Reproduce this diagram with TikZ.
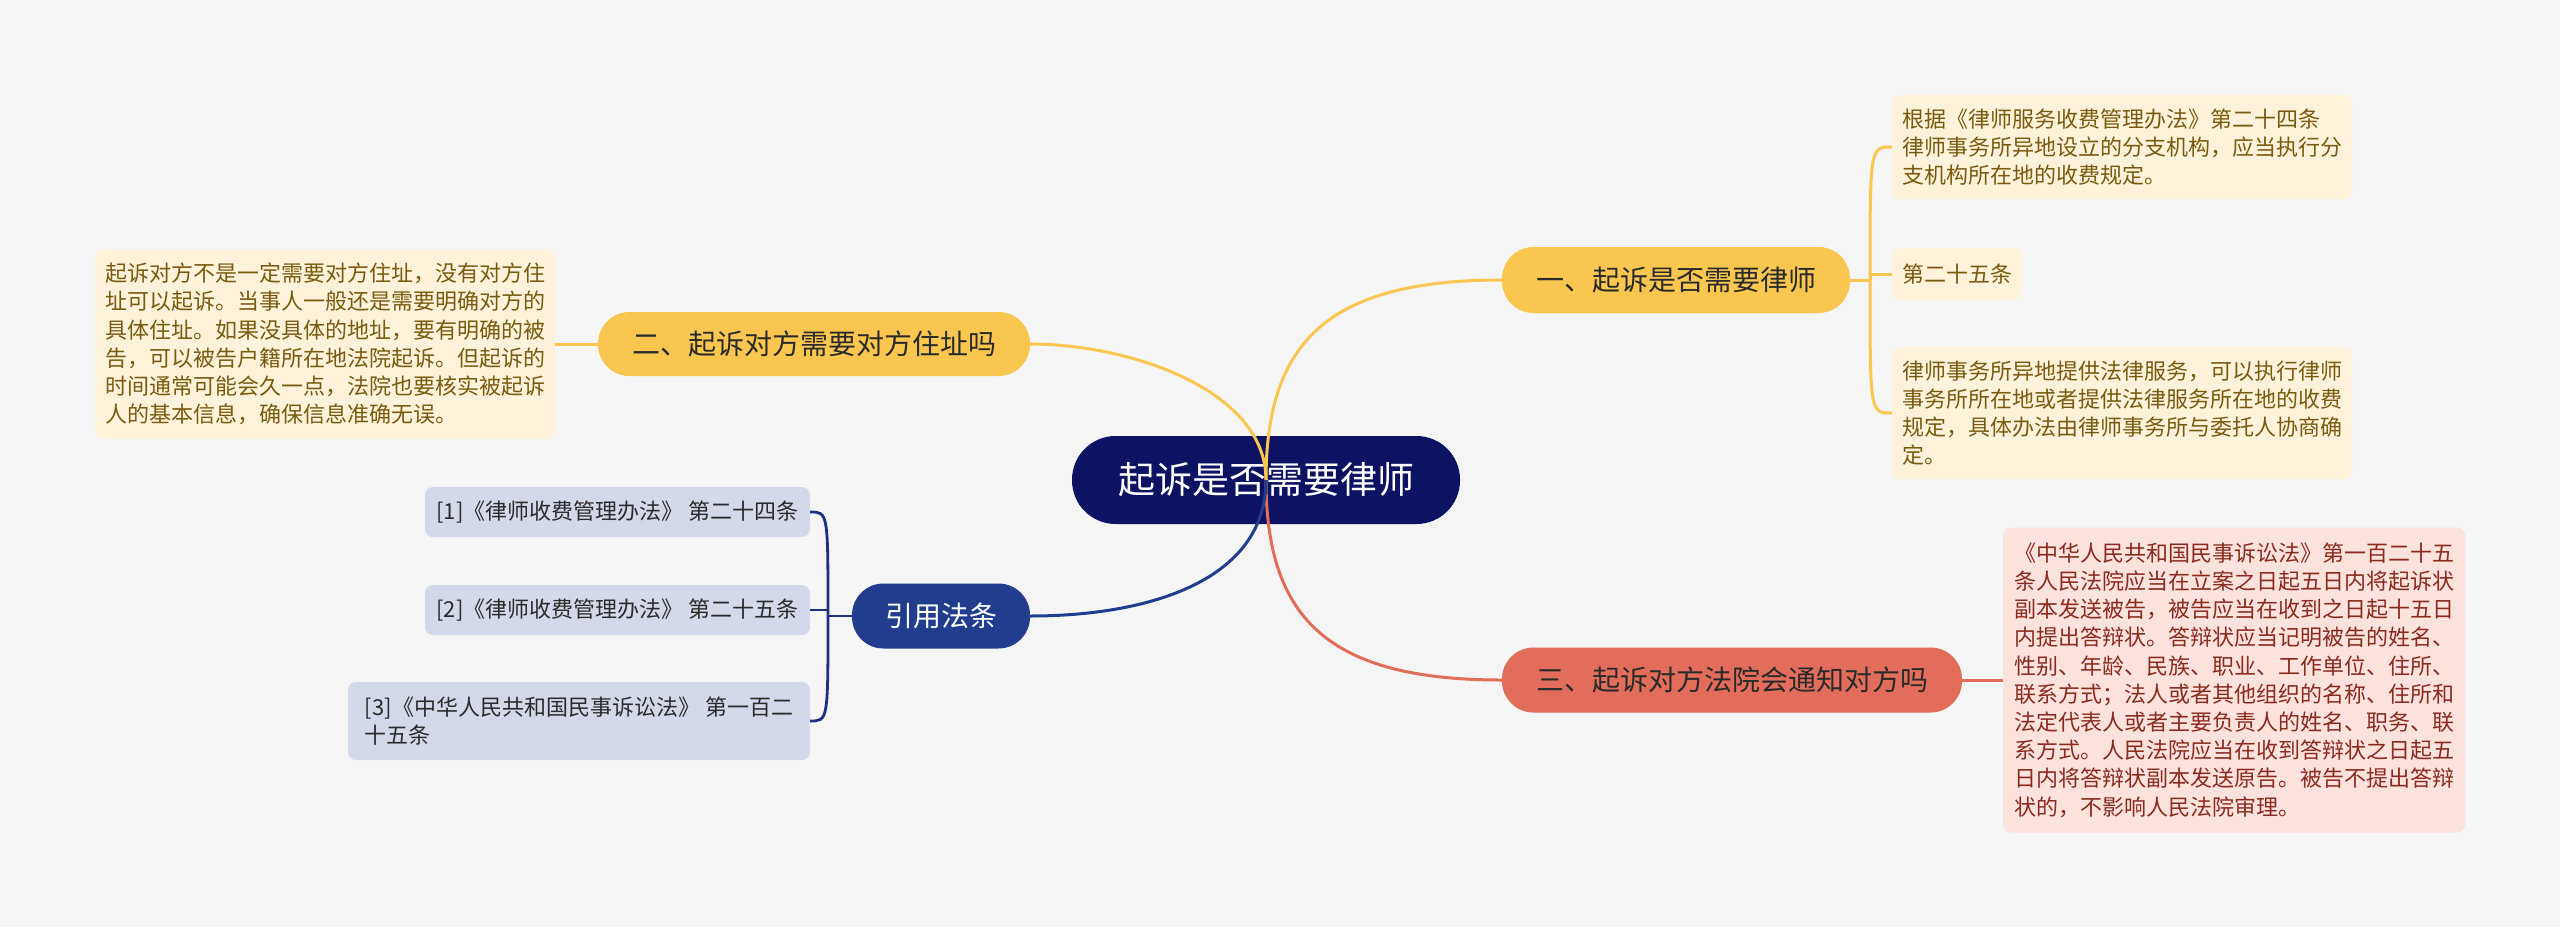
\documentclass[tikz,border=0pt]{standalone}
\usepackage{fontspec}
\setmainfont{Noto Sans CJK SC}
\definecolor{bgc}{HTML}{F5F5F5}
\definecolor{rootc}{HTML}{0D1263}
\definecolor{yelc}{HTML}{F9C74F}
\definecolor{redc}{HTML}{E26D5A}
\definecolor{bluec}{HTML}{203E8D}
\definecolor{bedgec}{HTML}{1C3280}
\definecolor{yleaff}{HTML}{FEF3DA}
\definecolor{yleaft}{HTML}{7A5A0E}
\definecolor{rleaff}{HTML}{FBE2DD}
\definecolor{rleaft}{HTML}{8B2B1E}
\definecolor{bleaff}{HTML}{D3D9E8}
\definecolor{bleaft}{HTML}{2B2B2B}
\definecolor{btext}{HTML}{2A2A2A}
\begin{document}
\begin{tikzpicture}[x=1pt,y=-1pt,
  rootbox/.style={fill=rootc, rounded corners=43.5pt, minimum width=388pt, minimum height=88pt, text=white, inner sep=0pt, font=\fontsize{37}{44}\selectfont},
  branchbox/.style={rounded corners=31.5pt, inner sep=0pt, text=btext, font=\fontsize{28}{34}\selectfont},
  leafbox/.style={rounded corners=8pt, inner sep=0pt, align=left, font=\fontsize{22}{28.2}\selectfont},
  yleaf/.style={leafbox, fill=yleaff, text=yleaft},
  rleaf/.style={leafbox, fill=rleaff, text=rleaft},
  bleaf/.style={leafbox, fill=bleaff, text=bleaft},
  yedge/.style={draw=yelc, line width=3pt},
  redge/.style={draw=redc, line width=3pt},
  bedge/.style={draw=bluec, line width=3pt},
  bedgeleaf/.style={draw=bedgec, line width=2.8pt}
]
\fill[bgc] (0,0) rectangle (2560,927);
\useasboundingbox (0,0) rectangle (2560,927);

% nodes
\node[rootbox] (root) at (1266,480) {起诉是否需要律师};
\node[branchbox, fill=yelc, minimum width=348pt, minimum height=66pt] (b1) at (1676,280) {一、起诉是否需要律师};
\node[branchbox, fill=yelc, minimum width=432pt, minimum height=64pt] (b2) at (814,344) {二、起诉对方需要对方住址吗};
\node[branchbox, fill=redc, minimum width=460pt, minimum height=65pt] (b3) at (1732,680) {三、起诉对方法院会通知对方吗};
\node[branchbox, fill=bluec, text=white, minimum width=178pt, minimum height=65pt] (b4) at (941,616) {引用法条};

\node[yleaf, minimum width=460pt, minimum height=104pt] (l1a) at (2122,147) {根据《律师服务收费管理办法》第二十四条\\律师事务所异地设立的分支机构，应当执行分\\支机构所在地的收费规定。};
\node[yleaf, minimum width=130pt, minimum height=52pt] (l1b) at (1957,274) {第二十五条};
\node[yleaf, minimum width=460pt, minimum height=132pt] (l1c) at (2122,413) {律师事务所异地提供法律服务，可以执行律师\\事务所所在地或者提供法律服务所在地的收费\\规定，具体办法由律师事务所与委托人协商确\\定。};
\node[yleaf, minimum width=460pt, minimum height=189pt] (l2) at (325,344) {起诉对方不是一定需要对方住址，没有对方住\\址可以起诉。当事人一般还是需要明确对方的\\具体住址。如果没具体的地址，要有明确的被\\告，可以被告户籍所在地法院起诉。但起诉的\\时间通常可能会久一点，法院也要核实被起诉\\人的基本信息，确保信息准确无误。};
\node[rleaf, minimum width=462pt, minimum height=305pt] (l3) at (2234,680) {《中华人民共和国民事诉讼法》第一百二十五\\条人民法院应当在立案之日起五日内将起诉状\\副本发送被告，被告应当在收到之日起十五日\\内提出答辩状。答辩状应当记明被告的姓名、\\性别、年龄、民族、职业、工作单位、住所、\\联系方式；法人或者其他组织的名称、住所和\\法定代表人或者主要负责人的姓名、职务、联\\系方式。人民法院应当在收到答辩状之日起五\\日内将答辩状副本发送原告。被告不提出答辩\\状的，不影响人民法院审理。};
\node[bleaf, minimum width=385pt, minimum height=50pt] (l4a) at (617.5,512) {[1]《律师收费管理办法》 第二十四条};
\node[bleaf, minimum width=385pt, minimum height=50pt] (l4b) at (617.5,610) {[2]《律师收费管理办法》 第二十五条};
\node[bleaf, minimum width=462pt, minimum height=78pt] (l4c) at (579,721) {[3]《中华人民共和国民事诉讼法》 第一百二\\十五条};

\coordinate (j1) at (1870,280);
\coordinate (j1b) at (1870,274);
\coordinate (j4) at (828,616);
\coordinate (j4b) at (828,610);

% root edges
\draw[yedge] (root.center) .. controls (1266,340) and (1330,280) .. (b1.west);
\draw[yedge] (root.center) .. controls (1266,390) and (1130,344) .. (b2.east);
\draw[redge] (root.center) .. controls (1266,620) and (1330,680) .. (b3.west);
\draw[bedge] (root.center) .. controls (1266,580) and (1150,616) .. (b4.east);

% leaf edges
\draw[yedge] (b1.east) -- (j1);
\draw[yedge] (j1) .. controls (1870,147) .. (l1a.west);
\draw[yedge] (j1) -- (j1b) -- (l1b.west);
\draw[yedge] (j1) .. controls (1870,413) .. (l1c.west);
\draw[yedge] (b2.west) -- (l2.east);
\draw[redge] (b3.east) -- (l3.west);
\draw[bedgeleaf] (b4.west) -- (j4);
\draw[bedgeleaf] (j4) .. controls (828,512) .. (l4a.east);
\draw[bedgeleaf] (j4) -- (j4b) -- (l4b.east);
\draw[bedgeleaf] (j4) .. controls (828,721) .. (l4c.east);
\end{tikzpicture}
\end{document}
